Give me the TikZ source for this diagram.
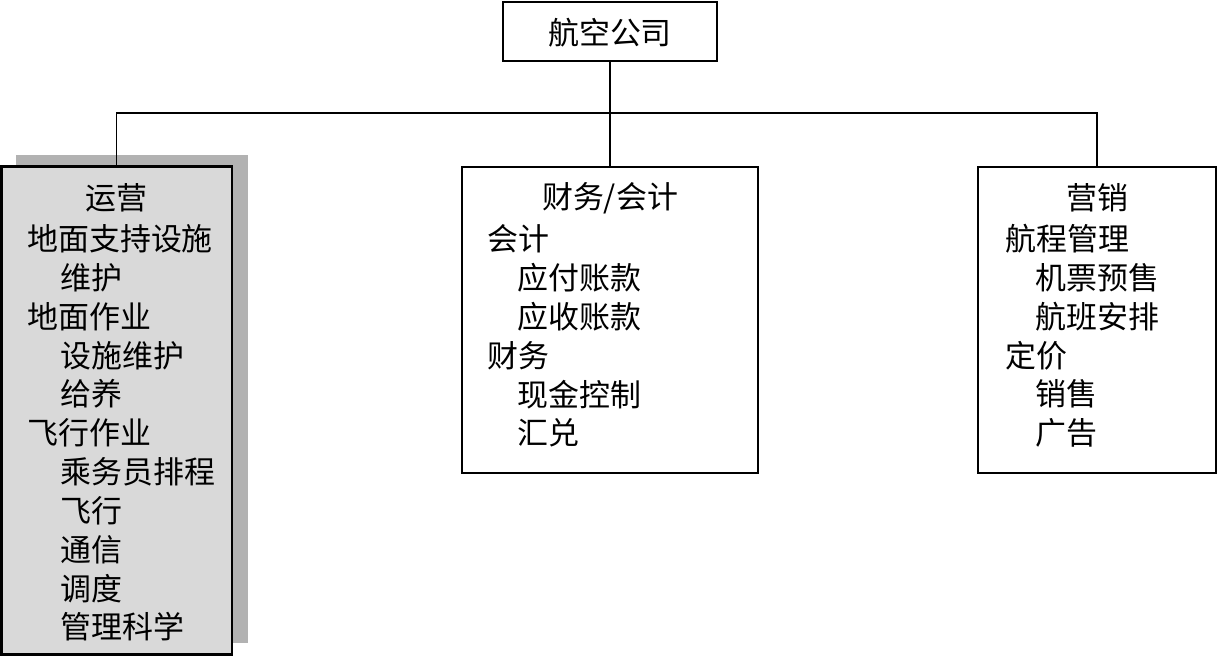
\documentclass[tikz,border=0pt]{standalone}
\usepackage{fontspec}
\newfontfamily\cjk{Noto Sans CJK SC}
\definecolor{boxgray}{gray}{0.85}
\definecolor{shadegray}{gray}{0.70}
\tikzset{
  orgbox/.style={draw, line width=2pt, inner sep=0pt},
  orgline/.style={line width=0.9pt},
  orgtext/.style={inner sep=0pt, font=\cjk\fontsize{22}{26}\selectfont},
  item/.style={orgtext, anchor=west}
}
\begin{document}
\begin{tikzpicture}[x=0.025cm, y=-0.025cm]
    \useasboundingbox (0,0) rectangle (1219,656);

    % boxes
    \node[orgbox, minimum width=5.35cm, minimum height=1.475cm] (airline) at (610,31.5) {};
    \node[orgtext] (airline-t) at (610,33) {航空公司};
    \fill[shadegray] (16,155) rectangle (248,643);
    \node[orgbox, fill=boxgray, minimum width=5.76cm, minimum height=12.18cm] (ops) at (116.75,410.5) {};
    \node[orgbox, minimum width=7.4cm, minimum height=7.65cm] (fin) at (610,320) {};
    \node[orgbox, minimum width=5.95cm, minimum height=7.65cm] (mkt) at (1097,320) {};

    % connectors
    \coordinate (bus) at (610,113);
    \draw[orgline] (airline.south) -- (fin.north);
    \draw[orgline] (ops.north) |- (bus) -| (mkt.north);

    % 运营
    \node[orgtext] (ops-t) at (116.75,198) {运营};
    \foreach \txt/\ind [count=\i] in {地面支持设施/0, 维护/1, 地面作业/0, 设施维护/1, 给养/1,
        飞行作业/0, 乘务员排程/1, 飞行/1, 通信/1, 调度/1, 管理科学/1} {
        \node[item] (ops-\i) at ({27+33*\ind}, {239+38.8*(\i-1)}) {\txt};
    }

    % 财务/会计
    \node[orgtext] (fin-t) at (610,198) {财务/会计};
    \foreach \txt/\ind [count=\i] in {会计/0, 应付账款/1, 应收账款/1, 财务/0, 现金控制/1, 汇兑/1} {
        \node[item] (fin-\i) at ({487+30*\ind}, {239+38.8*(\i-1)}) {\txt};
    }

    % 营销
    \node[orgtext] (mkt-t) at (1097,198) {营销};
    \foreach \txt/\ind [count=\i] in {航程管理/0, 机票预售/1, 航班安排/1, 定价/0, 销售/1, 广告/1} {
        \node[item] (mkt-\i) at ({1005+30*\ind}, {239+38.8*(\i-1)}) {\txt};
    }
\end{tikzpicture}
\end{document}
